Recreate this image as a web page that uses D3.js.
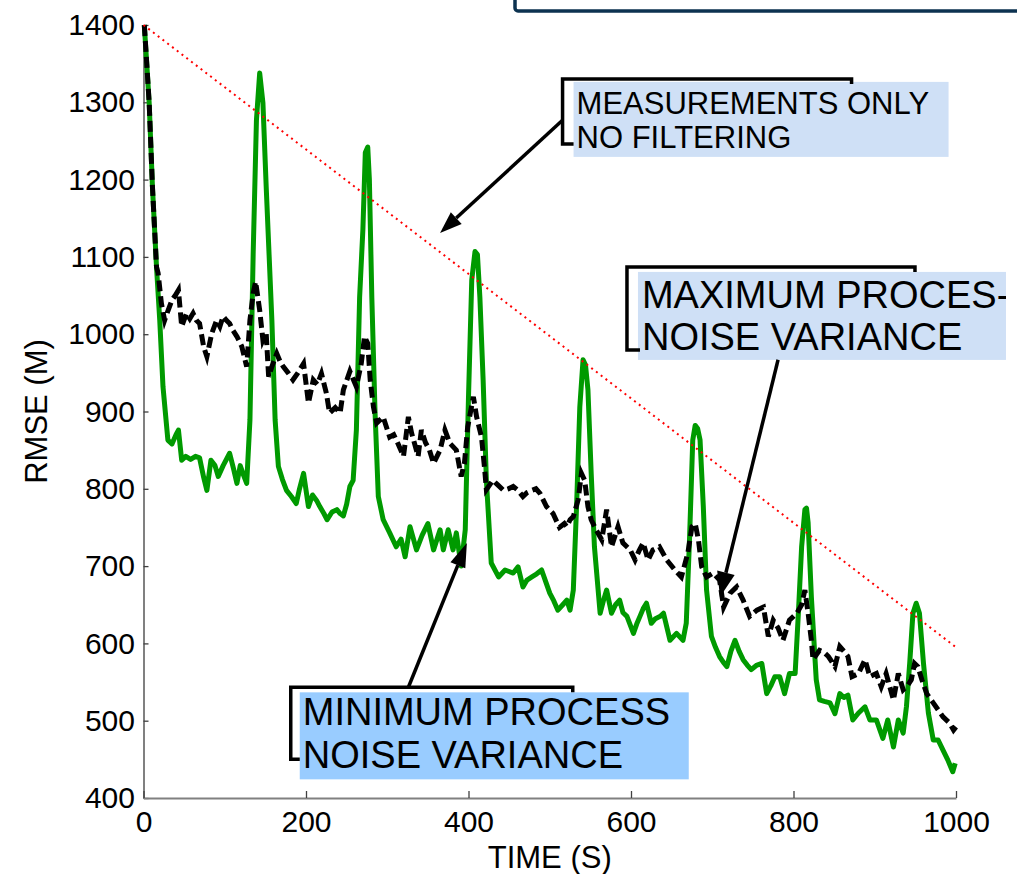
<!DOCTYPE html>
<html>
<head>
<meta charset="utf-8">
<script src="https://cdn.jsdelivr.net/npm/d3@7"></script>
<style>
  body { margin: 0; background: #fff; }
  svg { display: block; font-family: "Liberation Sans", Arial, Helvetica, sans-serif; }
</style>
</head>
<body>
<svg id="chart" width="1017" height="874"></svg>
<script>
// tick values
const xTicks = [0, 200, 400, 600, 800, 1000];
const yTicks = [400, 500, 600, 700, 800, 900, 1000, 1100, 1200, 1300, 1400];

// measurements only, no filtering (straight dotted line)
const measOnly = [[0, 1400], [1000, 595]];

// minimum process noise variance (green)
const minNoise = [[1,1400],[4,1350],[7,1299],[11,1191],[16,1087],[20,1018],[24,932],[30,863],[35,858],[40,870],[43,876],[47,837],[52,842],[58,838],[64,842],[69,840],[74,815],[78,798],[83,837],[88,830],[92,816],[98,830],[106,846],[111,825],[115,807],[119,830],[123,818],[127,807],[131,889],[135,1105],[139,1277],[143,1338],[147,1299],[151,1191],[158,1018],[162,889],[166,829],[171,812],[176,798],[182,790],[188,781],[192,800],[197,820],[203,777],[208,792],[213,785],[217,777],[222,768],[226,760],[232,770],[238,773],[242,768],[246,765],[250,780],[254,803],[258,811],[262,876],[266,1048],[270,1135],[273,1235],[276,1242],[278,1200],[281,1048],[285,898],[289,790],[295,760],[303,743],[311,725],[317,735],[322,712],[328,751],[336,721],[343,740],[350,755],[357,721],[365,747],[369,721],[375,747],[381,721],[385,743],[391,700],[396,747],[400,919],[404,1070],[408,1107],[411,1103],[414,1048],[418,941],[422,811],[428,704],[437,686],[445,695],[455,691],[461,699],[467,673],[472,682],[478,686],[484,690],[490,695],[495,680],[500,665],[505,655],[510,643],[516,650],[521,656],[525,643],[529,669],[533,777],[537,906],[541,967],[544,960],[547,928],[551,820],[555,725],[562,639],[566,655],[570,669],[576,639],[581,650],[586,656],[590,640],[595,635],[603,613],[607,625],[611,635],[615,645],[619,652],[625,626],[630,632],[636,635],[640,639],[648,604],[656,613],[664,604],[668,626],[672,734],[676,863],[679,882],[682,878],[685,863],[689,777],[693,669],[699,609],[704,595],[709,583],[714,575],[718,570],[723,590],[728,604],[733,590],[738,579],[743,572],[748,566],[755,572],[761,574],[767,535],[772,545],[777,557],[783,557],[789,535],[795,561],[802,561],[806,639],[810,725],[814,773],[816,775],[818,756],[822,660],[828,553],[832,527],[838,525],[845,523],[851,509],[857,535],[862,530],[867,533],[873,501],[880,510],[888,518],[894,501],[902,501],[910,477],[916,501],[923,466],[929,501],[935,484],[939,518],[943,574],[947,639],[951,652],[955,639],[960,574],[966,510],[972,475],[978,475],[984,462],[990,449],[996,434],[999,445]];

// maximum process noise variance (black dashed)
const maxNoise = [[1,1400],[4,1350],[7,1299],[11,1191],[16,1087],[18,1079],[22,1040],[26,1018],[30,1030],[35,1044],[39,1050],[43,1057],[47,1010],[53,1027],[57,1020],[61,1027],[65,1018],[69,1014],[74,984],[78,971],[84,1001],[90,1018],[94,1010],[98,1023],[102,1018],[106,1014],[110,1005],[115,997],[121,984],[127,958],[131,1018],[135,1053],[138,1068],[143,1031],[147,992],[151,1001],[154,945],[158,958],[164,975],[168,965],[172,958],[178,950],[184,941],[190,950],[197,962],[203,911],[209,941],[214,935],[219,949],[225,924],[229,898],[236,905],[242,898],[246,928],[250,940],[254,952],[262,932],[268,962],[272,997],[276,988],[279,941],[283,906],[287,885],[295,893],[303,867],[308,870],[313,859],[320,842],[326,893],[330,872],[338,842],[342,876],[347,860],[352,850],[357,833],[365,850],[371,876],[377,859],[385,850],[391,816],[395,833],[399,880],[406,919],[410,893],[416,867],[420,824],[422,799],[430,811],[436,805],[443,798],[449,800],[455,803],[461,798],[467,790],[472,795],[478,798],[483,800],[488,794],[496,777],[504,768],[512,750],[518,755],[521,751],[525,760],[529,764],[535,786],[539,820],[543,811],[547,777],[551,760],[557,747],[564,734],[570,773],[576,725],[584,751],[590,730],[599,721],[605,708],[610,720],[615,730],[621,708],[627,721],[635,725],[644,708],[654,695],[662,686],[670,717],[675,751],[679,755],[683,734],[687,699],[693,686],[701,691],[709,682],[714,647],[722,665],[730,673],[738,656],[746,635],[755,643],[763,647],[769,609],[775,630],[781,620],[787,604],[795,630],[804,639],[810,650],[814,669],[818,639],[822,604],[824,579],[832,591],[838,588],[843,583],[851,570],[857,596],[862,590],[867,583],[872,557],[880,561],[888,579],[894,557],[902,561],[908,544],[914,561],[923,527],[929,561],[935,540],[940,545],[945,553],[949,574],[953,570],[958,553],[964,535],[972,523],[978,514],[984,505],[992,497],[997,488],[1000,492]];

// annotation texts and arrow ends, in data units [time, rmse]
const noteMeas = { lines: ['MEASUREMENTS ONLY', 'NO FILTERING'], at: [533, 1285], tip: [365, 1131], tail: [516, 1277] };
const noteMax = { lines: ['MAXIMUM PROCES-', 'NOISE VARIANCE'], at: [613.5, 1034], tip: [709.5, 660], tail: [781, 967] };
const noteMin = { lines: ['MINIMUM PROCESS', 'NOISE VARIANCE'], at: [196, 494], tip: [398, 730], tail: [325.5, 542] };

const svg = d3.select('#chart');

const x = d3.scaleLinear().domain([0, 1000]).range([143.5, 956]);
const y = d3.scaleLinear().domain([400, 1400]).range([798, 25]);

// frame of the box that is cut off at the top
svg.append('rect')
  .attr('x', 515).attr('y', -12).attr('width', 530).attr('height', 23)
  .attr('rx', 3)
  .attr('fill', 'none').attr('stroke', '#0c3250').attr('stroke-width', 3.5);

// axes
const fmt = d3.format('d');
const yAxis = svg.append('g')
  .attr('transform', `translate(${x(0)},0)`)
  .call(d3.axisLeft(y).tickValues(yTicks).tickFormat(fmt).tickSize(-5).tickSizeOuter(0).tickPadding(8.5));
const xAxis = svg.append('g')
  .attr('transform', `translate(0,${y(400)})`)
  .call(d3.axisBottom(x).tickValues(xTicks).tickFormat(fmt).tickSize(-7).tickSizeOuter(0).tickPadding(13));

[yAxis, xAxis].forEach(g => {
  g.select('.domain').attr('stroke', '#808080').attr('stroke-width', 2);
  g.selectAll('.tick line').attr('stroke', '#404040').attr('stroke-width', 1.3);
  g.selectAll('.tick text')
    .attr('fill', '#000')
    .style('font-size', '30px')
    .style('font-family', '"Liberation Sans", Arial, sans-serif');
});

svg.append('text')
  .attr('transform', `translate(47,${(y(400) + y(1400)) / 2}) rotate(-90)`)
  .attr('text-anchor', 'middle')
  .style('font-size', '31px')
  .text('RMSE (M)');

svg.append('text')
  .attr('x', (x(0) + x(1000)) / 2)
  .attr('y', 868)
  .attr('text-anchor', 'middle')
  .style('font-size', '31px')
  .text('TIME (S)');

// curves
const line = d3.line().x(d => x(d[0])).y(d => y(d[1]));

svg.append('path')
  .datum(minNoise)
  .attr('d', line)
  .attr('fill', 'none')
  .attr('stroke', '#009a00')
  .attr('stroke-width', 5)
  .attr('stroke-linejoin', 'round');

svg.append('path')
  .datum(maxNoise)
  .attr('d', line)
  .attr('fill', 'none')
  .attr('stroke', '#000')
  .attr('stroke-width', 5)
  .attr('stroke-dasharray', '11,5');

svg.append('path')
  .datum(measOnly)
  .attr('d', line)
  .attr('fill', 'none')
  .attr('stroke', '#ff0000')
  .attr('stroke-width', 2)
  .attr('stroke-dasharray', '2,4');

// annotations
function arrow(note, headLen, headHalf) {
  const x1 = x(note.tail[0]), y1 = y(note.tail[1]);
  const x2 = x(note.tip[0]), y2 = y(note.tip[1]);
  const a = Math.atan2(y2 - y1, x2 - x1);
  const bx = x2 - headLen * Math.cos(a), by = y2 - headLen * Math.sin(a);
  svg.append('line')
    .attr('x1', x1).attr('y1', y1).attr('x2', bx).attr('y2', by)
    .attr('stroke', '#000').attr('stroke-width', 3.5);
  const pts = [
    [x2, y2],
    [bx + headHalf * Math.sin(a), by - headHalf * Math.cos(a)],
    [bx - headHalf * Math.sin(a), by + headHalf * Math.cos(a)]
  ];
  svg.append('polygon').attr('points', pts.map(p => p.join(',')).join(' ')).attr('fill', '#000');
}

function note(n, opt) {
  const a = x(n.at[0]), b = y(n.at[1]);
  const clipId = 'clip' + Math.round(a);
  svg.append('clipPath').attr('id', clipId)
    .append('rect')
    .attr('x', a + opt.fill[0]).attr('y', b + opt.fill[1])
    .attr('width', opt.fill[2]).attr('height', opt.fill[3]);
  svg.append('rect')
    .attr('x', a + opt.fill[0]).attr('y', b + opt.fill[1])
    .attr('width', opt.fill[2]).attr('height', opt.fill[3])
    .attr('fill', opt.color);
  const br = opt.bracket;
  svg.append('path')
    .attr('d', `M${a + br[0]},${b + br[3]} H${a + br[1]} V${b + br[2]} H${a + br[4]} V${b + br[2] + 5}`)
    .attr('fill', 'none').attr('stroke', '#000').attr('stroke-width', 3.5);
  const t = svg.append('text')
    .attr('clip-path', `url(#${clipId})`)
    .style('font-size', opt.size + 'px');
  n.lines.forEach((s, i) => {
    t.append('tspan').attr('x', a).attr('y', b + i * opt.lead).text(s);
  });
}

note(noteMeas, { fill: [-3, -32, 375, 75], bracket: [-3, -14, -35, 30, 275], color: '#cfe0f6', size: 31, lead: 34.5 });
note(noteMax, { fill: [-4, -36, 368, 88], bracket: [-2, -15, -41, 42, 273], color: '#cfe0f6', size: 38, lead: 42.5 });
note(noteMin, { fill: [-3, -33, 389, 87], bracket: [-3, -12, -38, 34, 270], color: '#99ccff', size: 38, lead: 43 });

arrow(noteMeas, 22, 8);
arrow(noteMax, 25, 9);
arrow(noteMin, 24, 8);
</script>
</body>
</html>
